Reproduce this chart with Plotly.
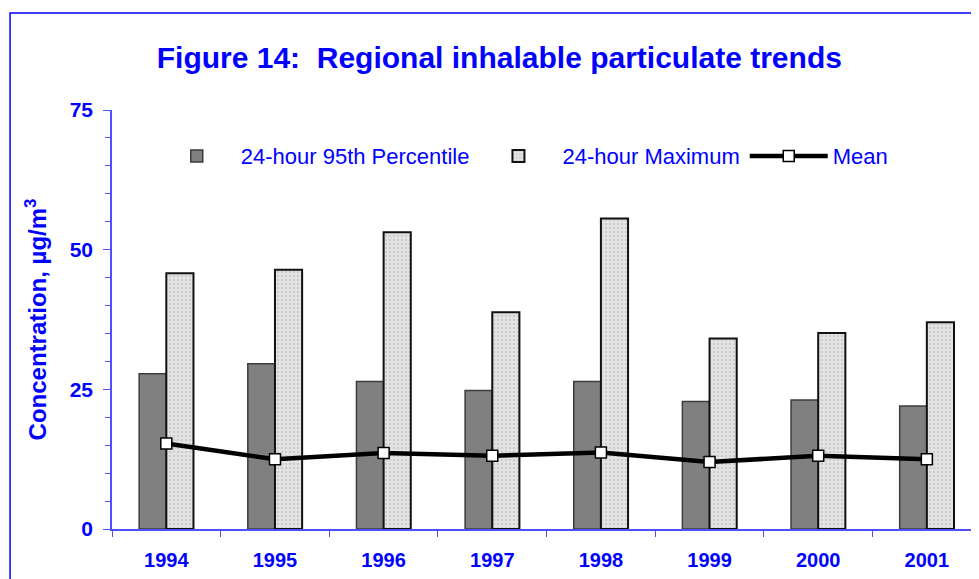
import plotly.graph_objects as go

# Values (µg/m3)
years = ["1994", "1995", "1996", "1997", "1998", "1999", "2000", "2001"]
p95 = [27.8, 29.6, 26.4, 24.8, 26.4, 22.8, 23.1, 22.0]
maximum = [45.8, 46.4, 53.1, 38.8, 55.6, 34.1, 35.1, 37.0]
mean = [15.3, 12.5, 13.6, 13.1, 13.7, 12.0, 13.1, 12.5]
y_ticks = [0, 25, 50, 75]

_BLUE = "#0000FF"
_AXIS = "#4F4FFF"
_FONT = "Arial, Liberation Sans, sans-serif"

fig = go.Figure()

fig.add_trace(go.Bar(
    x=years, y=p95, name="24-hour 95th Percentile",
    marker=dict(color="#808080", line=dict(color="#3C3C3C", width=1.5)),
))
fig.add_trace(go.Bar(
    x=years, y=maximum, name="24-hour Maximum",
    marker=dict(
        color="#E4E4E4",
        line=dict(color="#111111", width=2),
        pattern=dict(shape=".", fgcolor="#B4B4B4", bgcolor="#E4E4E4",
                     size=4, solidity=0.35),
    ),
))
fig.add_trace(go.Scatter(
    x=years, y=mean, name="Mean", mode="lines+markers",
    line=dict(color="#000000", width=4.5),
    marker=dict(symbol="square", size=11, color="#FFFFFF",
                line=dict(color="#000000", width=1.5)),
))

# page body adds an 8px margin, so the figure is 8px smaller and shifted
fig.update_layout(
    width=971, height=571,
    paper_bgcolor="#FFFFFF", plot_bgcolor="#FFFFFF",
    margin=dict(l=104, r=0, t=102, b=50),
    barmode="group", bargap=0.5, bargroupgap=0,
    font=dict(family=_FONT, color=_BLUE),
    title=dict(
        text="Figure 14:  Regional inhalable particulate trends",
        x=0.506, xanchor="center", y=0.9125, yanchor="middle",
        font=dict(size=30, color=_BLUE, family=_FONT, weight="bold"),
    ),
    legend=dict(
        orientation="h", x=0.047, y=0.89, xanchor="left", yanchor="middle",
        font=dict(size=22, color=_BLUE), bgcolor="rgba(0,0,0,0)",
        itemwidth=78, traceorder="normal",
    ),
    showlegend=True,
    shapes=[dict(
        type="rect", xref="paper", yref="paper",
        x0=-0.1176, x1=1.2, y0=-0.3, y1=1.2315,
        line=dict(color=_BLUE, width=1.5), fillcolor="rgba(0,0,0,0)",
        layer="below",
    )],
)

fig.update_xaxes(
    range=[-0.5, 7.48], type="category",
    showline=True, linecolor=_AXIS, linewidth=1.5,
    ticks="outside", tickson="boundaries", ticklen=6, tickcolor=_AXIS,
    tickfont=dict(size=20, color=_BLUE, family=_FONT, weight="bold"),
    ticklabelstandoff=12, showgrid=False, zeroline=False,
)
fig.update_yaxes(
    range=[0, 75], tickvals=y_ticks,
    showline=True, linecolor=_AXIS, linewidth=1.5,
    ticks="outside", ticklen=7, tickcolor=_AXIS,
    minor=dict(dtick=5, ticks="outside", ticklen=5, tickcolor=_AXIS),
    tickfont=dict(size=21, color=_BLUE, family=_FONT, weight="bold"),
    ticklabelstandoff=6, showgrid=False, zeroline=False,
    title=dict(text="Concentration, µg/m<sup>3</sup>",
               font=dict(size=24, color=_BLUE, family=_FONT, weight="bold"),
               standoff=16),
)

fig.write_html("out.html")
